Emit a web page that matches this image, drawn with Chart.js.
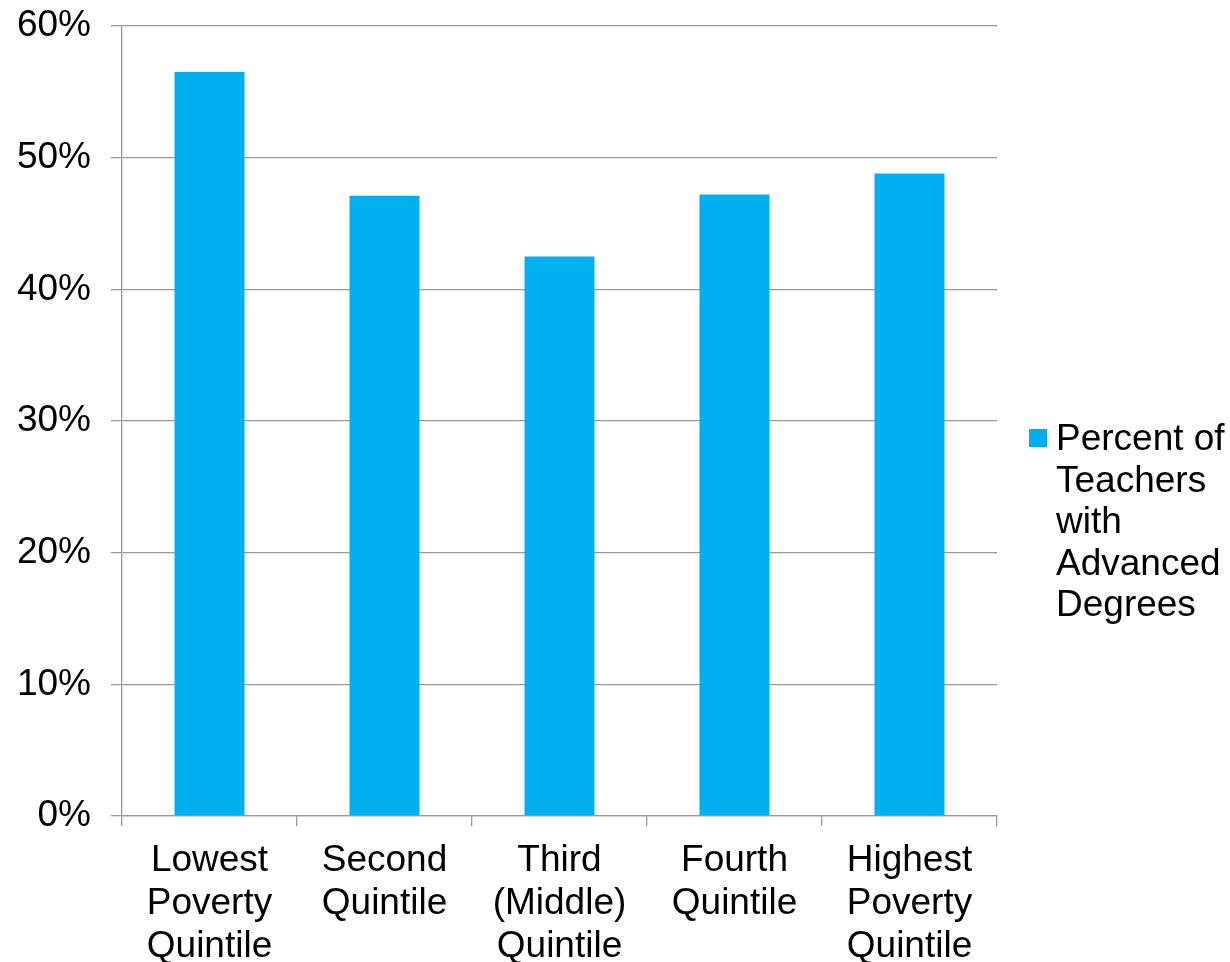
<!DOCTYPE html>
<html lang="en">
<head>
<meta charset="utf-8"/>
<title>Teachers with Advanced Degrees by Poverty Quintile</title>
<script src="https://cdn.jsdelivr.net/npm/chart.js"></script>
<style>
  html, body { margin: 0; padding: 0; background: #fff; }
  #wrap { width: 1230px; height: 962px; }
</style>
</head>
<body>
<div id="wrap"><canvas id="grafik" width="1230" height="962"></canvas></div>
<script>
  // categories (multi-line labels) and the single series
  const quintiles = [
    ['Lowest', 'Poverty', 'Quintile'],
    ['Second', 'Quintile'],
    ['Third', '(Middle)', 'Quintile'],
    ['Fourth', 'Quintile'],
    ['Highest', 'Poverty', 'Quintile']
  ];
  const advancedPct = [56.5, 47.1, 42.5, 47.2, 48.8];
  const seriesLabel = ['Percent of', 'Teachers', 'with', 'Advanced', 'Degrees'];

  const barColor = '#00B0F0';
  const gridColor = '#999999';
  const fontFam = 'Arial, "Liberation Sans", sans-serif';

  // legend on the right, label wrapped over several lines
  const sideLegend = {
    id: 'sideLegend',
    afterDraw(chart) {
      const ctx = chart.ctx;
      ctx.save();
      ctx.fillStyle = barColor;
      ctx.fillRect(1029, 429, 18, 18);
      ctx.fillStyle = '#000';
      ctx.font = '37px ' + fontFam;
      ctx.textBaseline = 'middle';
      ctx.textAlign = 'left';
      seriesLabel.forEach((t, i) => ctx.fillText(t, 1056, 440 + i * 41.5));
      ctx.restore();
    }
  };

  new Chart(document.getElementById('grafik'), {
    type: 'bar',
    data: {
      labels: quintiles,
      datasets: [{
        label: seriesLabel.join(' '),
        data: advancedPct,
        backgroundColor: barColor,
        barPercentage: 0.4,
        categoryPercentage: 1.0
      }]
    },
    options: {
      responsive: false,
      animation: false,
      layout: { padding: { top: 26, right: 233, left: 0, bottom: 0 } },
      plugins: {
        legend: { display: false },
        tooltip: { enabled: false }
      },
      scales: {
        x: {
          grid: {
            offset: true,
            drawOnChartArea: false,
            drawTicks: true,
            tickLength: 10,
            color: gridColor,
            lineWidth: 1.3
          },
          border: { color: gridColor, width: 1.3 },
          ticks: {
            color: '#000',
            font: { family: fontFam, size: 37, lineHeight: 1.17 },
            padding: 13,
            maxRotation: 0,
            autoSkip: false
          },
          afterFit(scale) {
            scale.height = 146;
            scale.paddingLeft = 0;
            scale.paddingRight = 0;
          }
        },
        y: {
          min: 0,
          max: 60,
          grid: {
            color: gridColor,
            lineWidth: 1.3,
            tickLength: 11
          },
          border: { color: gridColor, width: 1.3 },
          ticks: {
            stepSize: 10,
            color: '#000',
            font: { family: fontFam, size: 37 },
            padding: 20,
            callback: v => v + '%'
          },
          afterFit(scale) {
            scale.width = 122;
            scale.paddingTop = 0;
            scale.paddingBottom = 0;
          }
        }
      }
    },
    plugins: [sideLegend]
  });
</script>
</body>
</html>
